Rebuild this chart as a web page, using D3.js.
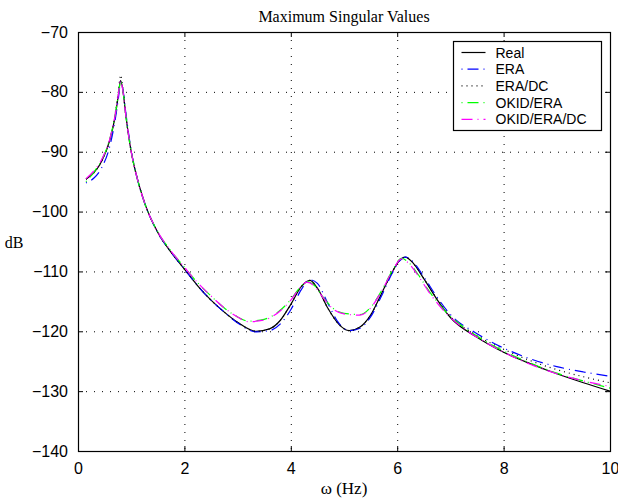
<!DOCTYPE html>
<html lang="en">
  <head>
    <meta charset="UTF-8" />
    <title>Maximum Singular Values</title>
    <style>
      body { margin: 0; background: #fff; }
      svg { display: block; }
      .tick text { font-family: "Liberation Sans", Arial, sans-serif; font-size: 16px; fill: #000; }
      .serif { font-family: "Liberation Serif", "Times New Roman", serif; }
    </style>
  </head>
  <body>
    <div class="container"></div>
    <script src="https://cdnjs.cloudflare.com/ajax/libs/d3/7.8.5/d3.min.js"></script>
    <script>
      // data (frequency in Hz, magnitude in dB)
      const wReal = [0.15, 0.3, 0.45, 0.6, 0.7, 0.76, 0.8, 0.84, 0.9, 1.0, 1.1, 1.25, 1.5, 1.75, 2.0, 2.25, 2.5, 2.75, 3.0, 3.35, 3.6, 3.8, 4.0, 4.2, 4.36, 4.5, 4.7, 4.9, 5.1, 5.3, 5.5, 5.7, 5.9, 6.05, 6.15, 6.3, 6.5, 6.75, 7.0, 7.5, 8.0, 8.5, 9.0, 9.5, 10];
      const real = [-94.6, -93.5, -91.5, -88, -84, -80.5, -78.1, -79.5, -84, -90, -94, -98.5, -103.5, -106.8, -109.6, -112.4, -114.8, -116.8, -118.5, -120, -119.6, -118.2, -115.5, -112.5, -111.5, -112.8, -116.2, -118.8, -119.9, -119.3, -117.3, -113.8, -110.2, -108.1, -107.6, -108.6, -111.2, -114.7, -117.7, -121.0, -123.5, -125.4, -127.1, -128.6, -130];
      const era = [-95.2, -94.4, -92.6, -89, -84.6, -81, -78.4, -79.4, -83.6, -89.8, -94, -98.5, -103.5, -106.8, -109.6, -112.4, -114.8, -116.8, -118.6, -120.1, -119.9, -118.8, -116.4, -113, -111.4, -112, -115.4, -118.6, -119.9, -119.5, -117.6, -114.2, -110.4, -108.2, -107.6, -108.4, -110.9, -114.3, -117.2, -120.4, -122.8, -124.6, -125.9, -126.8, -127.5];
      const eraDc = [-94.6, -93.5, -91.5, -88, -83.6, -79.8, -77.2, -79.2, -84, -90, -94, -98.5, -103.5, -106.8, -109.6, -112.4, -114.8, -116.8, -118.5, -120, -119.6, -118.2, -115.5, -112.5, -111.5, -112.8, -116.2, -118.8, -119.9, -119.3, -117.3, -113.8, -110.2, -108.1, -107.6, -108.6, -111.2, -114.6, -117.5, -120.7, -123.0, -124.9, -126.4, -127.6, -128.6];

      const wOkid = [0.15, 0.3, 0.45, 0.6, 0.7, 0.76, 0.8, 0.84, 0.9, 1.0, 1.1, 1.25, 1.5, 1.75, 2.0, 2.25, 2.5, 2.75, 3.0, 3.2, 3.5, 3.8, 4.0, 4.15, 4.3, 4.45, 4.6, 4.8, 5.0, 5.3, 5.5, 5.7, 5.9, 6.08, 6.2, 6.4, 6.6, 6.9, 7.2, 7.5, 8.0, 8.5, 9.0, 9.5, 10];
      const okidEra = [-95.0, -93.4, -91.3, -87.8, -83.8, -80.4, -78.2, -79.6, -84, -90, -94, -98.5, -103.4, -106.6, -109.3, -111.9, -114.1, -116.1, -117.6, -118.3, -118.0, -116.5, -114.7, -112.9, -111.7, -112.4, -114.2, -116.2, -117.0, -117.2, -116.0, -113.3, -110.0, -107.8, -108.4, -110.6, -113.3, -116.6, -119.0, -120.8, -123.3, -125.3, -127.0, -128.3, -129.5];
      const okidEraDc = [-94.5, -93.2, -91.2, -87.8, -83.8, -80.4, -78.2, -79.6, -84, -90, -94, -98.5, -103.4, -106.6, -109.3, -111.9, -114.1, -116.1, -117.6, -118.4, -118.1, -116.6, -114.8, -113.0, -111.8, -112.5, -114.3, -116.3, -117.1, -117.3, -116.1, -113.4, -110.1, -107.9, -108.5, -110.8, -113.5, -116.8, -119.2, -121.0, -123.5, -125.5, -127.1, -128.3, -129.2];

      const xTicks = [0, 2, 4, 6, 8, 10];
      const yTicks = [-140, -130, -120, -110, -100, -90, -80, -70];

      const series = [
        { name: "Real", w: wReal, v: real, color: "#000", dash: null },
        { name: "ERA", w: wReal, v: era, color: "#0000ff", dash: "1,5,11,5" },
        { name: "ERA/DC", w: wReal, v: eraDc, color: "#000", dash: "1,4" },
        { name: "OKID/ERA", w: wOkid, v: okidEra, color: "#00ff00", dash: "1,5,11,5" },
        { name: "OKID/ERA/DC", w: wOkid, v: okidEraDc, color: "#ff00ff", dash: "11,5,1,5" },
      ];

      const W = 618, H = 504;
      const m = { left: 78, right: 8, top: 32, bottom: 53 };

      const svg = d3.select(".container").append("svg")
        .attr("width", W).attr("height", H);

      const scX = d3.scaleLinear().domain([0, 10]).range([m.left, W - m.right]);
      const scY = d3.scaleLinear().domain([-140, -70]).range([H - m.bottom, m.top]);

      // grid
      const grid = svg.append("g").attr("stroke", "#000").attr("stroke-width", 1).attr("stroke-dasharray", "1,7");
      grid.selectAll(".gx").data(xTicks.slice(1, -1)).enter().append("line")
        .attr("x1", d => scX(d) + 0.5).attr("x2", d => scX(d) + 0.5)
        .attr("y1", scY(-70)).attr("y2", scY(-140));
      grid.selectAll(".gy").data(yTicks.slice(1, -1)).enter().append("line")
        .attr("y1", d => scY(d) + 0.5).attr("y2", d => scY(d) + 0.5)
        .attr("x1", scX(0)).attr("x2", scX(10));

      // curves
      const line = d3.line().curve(d3.curveMonotoneX);
      svg.append("g").selectAll("path").data(series).enter().append("path")
        .attr("fill", "none")
        .attr("stroke", d => d.color)
        .attr("stroke-width", 1.2)
        .attr("stroke-dasharray", d => d.dash)
        .attr("d", d => line(d.w.map((w, i) => [scX(w), scY(d.v[i])])));

      // axes (ticks inside, box on)
      const fmt = d => (d < 0 ? "\u2212" + Math.abs(d) : d);
      svg.append("g").attr("transform", `translate(0,${scY(-140)})`)
        .call(d3.axisBottom(scX).tickValues(xTicks).tickSizeInner(-5).tickSizeOuter(0).tickPadding(12).tickFormat(fmt));
      svg.append("g").attr("transform", `translate(${scX(0)},0)`)
        .call(d3.axisLeft(scY).tickValues(yTicks).tickSizeInner(-5).tickSizeOuter(0).tickPadding(10).tickFormat(fmt));
      svg.append("g").attr("transform", `translate(0,${scY(-70)})`)
        .call(d3.axisTop(scX).tickValues(xTicks).tickSizeInner(-5).tickSizeOuter(0).tickFormat(""));
      svg.append("g").attr("transform", `translate(${scX(10)},0)`)
        .call(d3.axisRight(scY).tickValues(yTicks).tickSizeInner(-5).tickSizeOuter(0).tickFormat(""));
      svg.selectAll(".domain").remove();
      svg.selectAll(".tick line").attr("stroke", "#000");

      svg.append("rect")
        .attr("x", scX(0) + 0.5).attr("y", scY(-70) + 0.5)
        .attr("width", scX(10) - scX(0)).attr("height", scY(-140) - scY(-70))
        .attr("fill", "none").attr("stroke", "#000").attr("stroke-width", 1.2);

      // titles
      svg.append("text").attr("class", "serif")
        .attr("x", (scX(0) + scX(10)) / 2).attr("y", 22)
        .attr("text-anchor", "middle").attr("font-size", 16)
        .text("Maximum Singular Values");
      svg.append("text").attr("class", "serif")
        .attr("x", (scX(0) + scX(10)) / 2).attr("y", 494)
        .attr("text-anchor", "middle").attr("font-size", 17)
        .text("\u03c9 (Hz)");
      svg.append("text").attr("class", "serif")
        .attr("x", 14).attr("y", 248)
        .attr("text-anchor", "middle").attr("font-size", 16)
        .text("dB");

      // legend
      const lg = svg.append("g").attr("transform", "translate(453.5,41.5)");
      lg.append("rect").attr("width", 148).attr("height", 89)
        .attr("fill", "#fff").attr("stroke", "#000").attr("stroke-width", 1.2);
      const row = lg.selectAll(".row").data(series).enter().append("g")
        .attr("transform", (d, i) => `translate(0,${11 + i * 16.7})`);
      row.append("line").attr("x1", 8).attr("x2", 32)
        .attr("stroke", d => d.color).attr("stroke-width", 1.2)
        .attr("stroke-dasharray", d => d.dash);
      row.append("text").attr("x", 42).attr("y", 5)
        .attr("font-family", "'Liberation Sans', Arial, sans-serif").attr("font-size", 14)
        .text(d => d.name);
    </script>
  </body>
</html>
